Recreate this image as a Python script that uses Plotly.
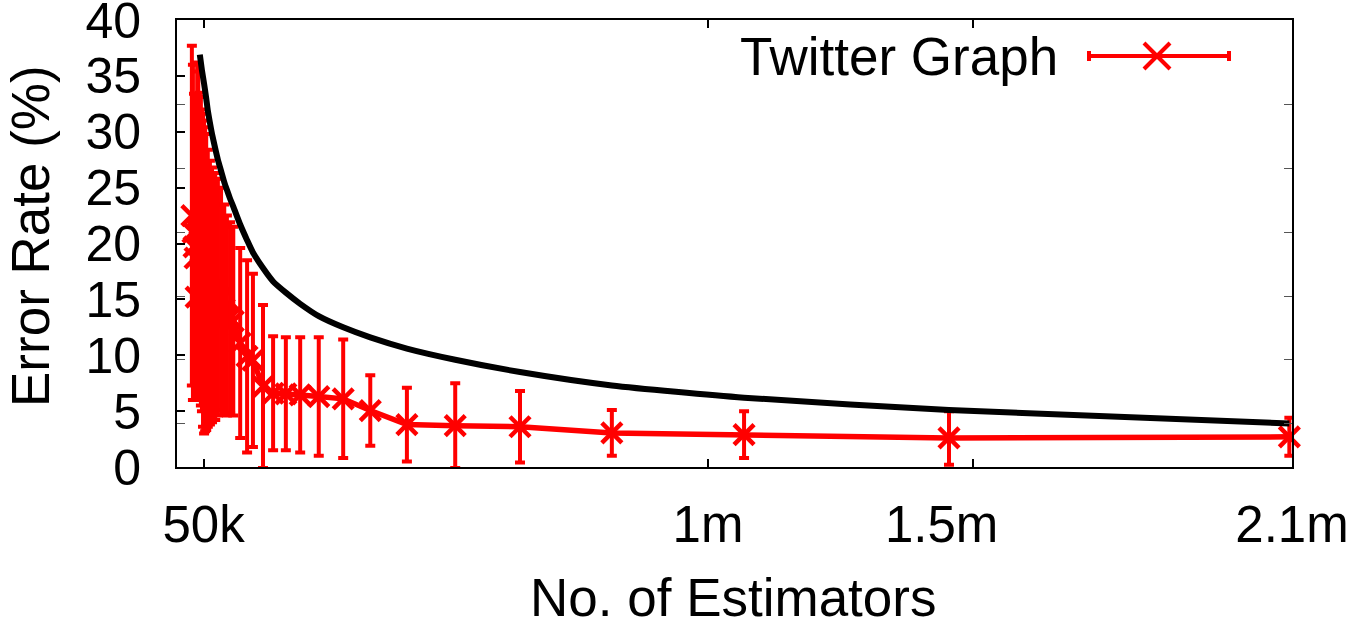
import plotly.graph_objects as go

# Number of estimators (thousands) and measured error rate (%) with its spread
est_k = [28, 30, 32, 34, 36, 38, 40, 43, 45, 47, 49, 51, 53, 55, 58, 62, 66, 72,
         77, 83, 89, 94, 100, 106, 119, 132, 143, 162, 181, 205, 232, 267, 313,
         364, 433, 524, 646, 819, 1068, 1454, 2095]
err_mean = [22.5, 21.0, 19.7, 18.7, 15.2, 21.2, 20.9, 20.2, 19.3, 18.5, 17.6,
            17.0, 16.8, 16.55, 16.0, 15.6, 15.4, 15.25, 15.2, 15.05, 14.15,
            13.55, 13.35, 13.05, 11.1, 9.9, 9.55, 7.2, 6.6, 6.55, 6.45, 6.3,
            6.1, 5.05, 3.8, 3.7, 3.6, 3.05, 2.9, 2.6, 2.7]
err_sd = [15.2, 15.0, 13.7, 12.7, 9.2, 15.0, 14.5, 13.3, 13.8, 13.5, 14.0,
          14.0, 13.6, 13.25, 12.4, 11.8, 11.4, 11.05, 10.6, 9.95, 9.35, 8.95,
          8.55, 8.45, 8.5, 8.6, 7.75, 7.3, 5.1, 5.05, 5.15, 5.3, 5.3, 3.15,
          3.3, 3.8, 3.2, 2.05, 2.1, 2.4, 1.7]

# Theoretical bound curve
bound_k = [43, 47, 51, 55, 58, 62, 66, 72, 77, 83, 89, 94, 100, 106, 119, 132,
           143, 162, 181, 205, 232, 267, 313, 364, 433, 524, 646, 819, 1068,
           1454, 2095]
bound_val = [36.9, 35.5, 34.3, 33.0, 31.9, 30.8, 29.8, 28.5, 27.5, 26.5, 25.5,
             24.8, 24.0, 23.3, 21.7, 20.3, 19.2, 17.8, 16.6, 15.6, 14.6, 13.5,
             12.5, 11.6, 10.6, 9.6, 8.5, 7.3, 6.2, 5.1, 3.9]

# Axis labels
x_label_vals = [50, 1000, 1440, 2100]
x_label_text = ["50k", "1m", "1.5m", "2.1m"]
x_mark_vals = [50, 1000, 1500]
y_tick_vals = [0, 5, 10, 15, 20, 25, 30, 35, 40]
y_extra_marks = [3.9, 9.6, 15.3, 21.0, 26.7, 32.4]

FONT = "Liberation Sans, Arial, Helvetica, sans-serif"
W, H = 1350, 627
L, R, T, B = 177, 58, 20, 160
PW, PH = W - L - R, H - T - B


def px_x(px):
    return (px - L) / PW


def px_y(py):
    return (H - B - py) / PH


fig = go.Figure()

fig.add_trace(go.Scatter(
    x=est_k, y=err_mean,
    mode="lines+markers",
    name="Twitter Graph",
    line=dict(color="#ff0000", width=5.5),
    marker=dict(symbol="x-thin", size=20, color="#ff0000",
                line=dict(color="#ff0000", width=4.5)),
    error_y=dict(type="data", array=err_sd, color="#ff0000",
                 thickness=4, width=5),
    cliponaxis=False,
    showlegend=False,
))

fig.add_trace(go.Scatter(
    x=bound_k, y=bound_val,
    mode="lines",
    line=dict(color="black", width=6, shape="spline", smoothing=0.6),
    showlegend=False,
))

axis_common = dict(showgrid=False, zeroline=False, showline=True,
                   linecolor="black", linewidth=2, mirror=True,
                   automargin=False)

fig.update_layout(
    width=W, height=H,
    margin=dict(l=L, r=R, t=T, b=B, pad=0, autoexpand=False),
    paper_bgcolor="white", plot_bgcolor="white",
    font=dict(family=FONT, color="black"),
    xaxis=dict(range=[0, 2100], tickmode="array", tickvals=x_label_vals,
               ticktext=x_label_text, ticks="",
               tickfont=dict(size=51, family=FONT, color="black"),
               ticklabelstandoff=12, ticklabeloverflow="allow",
               **axis_common),
    xaxis2=dict(range=[0, 2100], overlaying="x", side="bottom",
                tickmode="array", tickvals=x_mark_vals, ticks="inside",
                ticklen=8, tickwidth=1.5, tickcolor="black",
                showticklabels=False, showgrid=False, zeroline=False,
                showline=False, mirror="ticks", automargin=False),
    yaxis=dict(range=[0, 40], tickmode="array", tickvals=y_tick_vals,
               ticks="inside", ticklen=8, tickwidth=1.5, tickcolor="black",
               tickfont=dict(size=50, family=FONT, color="black"),
               ticklabelstandoff=24, ticklabeloverflow="allow",
               **axis_common),
    yaxis2=dict(range=[0, 40], overlaying="y", side="left",
                tickmode="array", tickvals=y_extra_marks, ticks="inside",
                ticklen=8, tickwidth=1.2, tickcolor="#555555",
                showticklabels=False, showgrid=False, zeroline=False,
                showline=False, mirror="ticks", automargin=False),
)

# Invisible anchor traces so the tick-only axes are drawn
fig.add_trace(go.Scatter(x=[None], y=[None], xaxis="x2", yaxis="y",
                         showlegend=False, hoverinfo="skip"))
fig.add_trace(go.Scatter(x=[None], y=[None], xaxis="x", yaxis="y2",
                         showlegend=False, hoverinfo="skip"))

# Axis titles
fig.add_annotation(text="Error Rate (%)", textangle=-90, xref="paper",
                   yref="paper", x=px_x(30), y=px_y(236), xanchor="center",
                   yanchor="middle", showarrow=False,
                   font=dict(size=53, family=FONT, color="black"))
fig.add_annotation(text="No. of Estimators", xref="paper", yref="paper",
                   x=px_x(733), y=px_y(597), xanchor="center",
                   yanchor="middle", showarrow=False,
                   font=dict(size=53, family=FONT, color="black"))

# Key: label on the left, sample line with error caps and cross on the right
key_y = 56
fig.add_annotation(text="Twitter Graph", xref="paper", yref="paper",
                   x=px_x(1060), y=px_y(key_y), xanchor="right",
                   yanchor="middle", showarrow=False,
                   font=dict(size=53, family=FONT, color="black"))
key_shapes = [
    dict(x0=1089, y0=key_y, x1=1229, y1=key_y, w=4),
    dict(x0=1089, y0=key_y - 5, x1=1089, y1=key_y + 5, w=4),
    dict(x0=1229, y0=key_y - 5, x1=1229, y1=key_y + 5, w=4),
    dict(x0=1144, y0=key_y - 13, x1=1170, y1=key_y + 13, w=4),
    dict(x0=1144, y0=key_y + 13, x1=1170, y1=key_y - 13, w=4),
]
for s in key_shapes:
    fig.add_shape(type="line", xref="paper", yref="paper",
                  x0=px_x(s["x0"]), y0=px_y(s["y0"]),
                  x1=px_x(s["x1"]), y1=px_y(s["y1"]),
                  line=dict(color="#ff0000", width=s["w"]))

fig.write_html("out.html")
